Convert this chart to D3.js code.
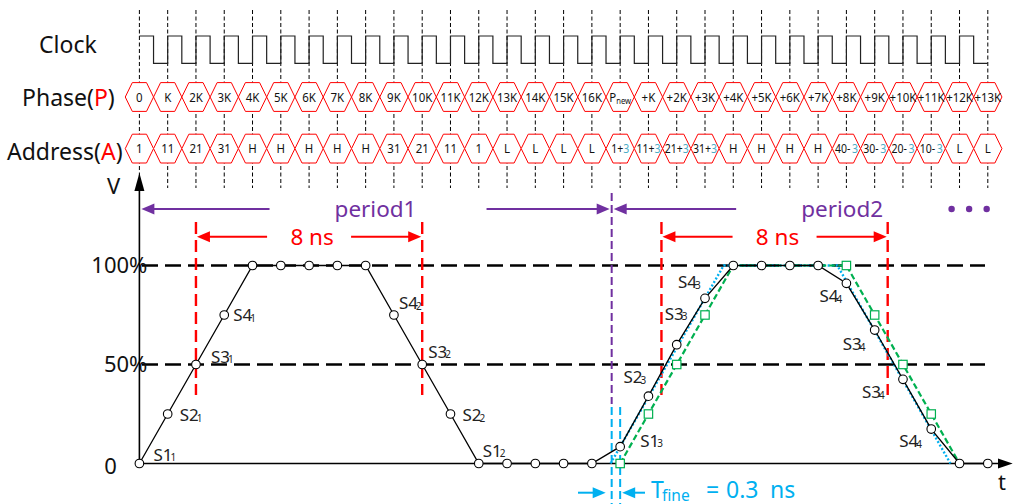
<!DOCTYPE html>
<html>
<head>
<meta charset="utf-8">
<script src="https://cdn.jsdelivr.net/npm/d3@7"></script>
<style>
  body { margin: 0; background: #fff; }
  text { font-family: "Noto Sans", sans-serif; }
</style>
</head>
<body>
<div id="chart"></div>
<script>
// ---- data ----
// clock cycles (1 cycle = 1 ns)
var cycles = d3.range(0, 31)

var phaseLabels = ["0", "K", "2K", "3K", "4K", "5K", "6K", "7K", "8K", "9K", "10K", "11K", "12K",
  "13K", "14K", "15K", "16K", "Pnew", "+K", "+2K", "+3K", "+4K", "+5K", "+6K", "+7K", "+8K",
  "+9K", "+10K", "+11K", "+12K", "+13K"]

var addressLabels = ["1", "11", "21", "31", "H", "H", "H", "H", "H", "31", "21", "11", "1",
  "L", "L", "L", "L", "1+3", "11+3", "21+3", "31+3", "H", "H", "H", "H", "40-3", "30-3",
  "20-3", "10-3", "L", "L"]

// sampled output (black circles), one per clock cycle
var sampleValues = [0, 0.25, 0.5, 0.75, 1, 1, 1, 1, 1, 0.75, 0.5, 0.25, 0, 0, 0, 0, 0,
  0.085, 0.34, 0.6, 0.834, 1, 1, 1, 1, 0.91, 0.674, 0.425, 0.174, 0, 0]

// ideal (unshifted) second period, green squares
var idealCycles = d3.range(17, 30)
var idealValues = [0, 0.25, 0.5, 0.75, 1, 1, 1, 1, 1, 0.75, 0.5, 0.25, 0]

// fine-shifted analog waveform (blue dotted)
var fineTimes = [16.66, 20.66, 24.68, 28.68]
var fineValues = [0, 1, 1, 0]

var yTickValues = [0, 0.5, 1]
var yTickLabels = ["0", "50%", "100%"]

var periodNames = ["period1", "period2"]
var periodStarts = [0, 16.7]
var periodEnds = [16.7, 33]
var widthStarts = [2, 18.46]   // 50% crossings
var widthEnds = [10, 26.46]
var widthLabel = "8 ns"
var tFineEdges = [16.7, 17]

var sampleNames = ["S1", "S2", "S3", "S4", "S4", "S3", "S2", "S1", "S1", "S2", "S3", "S4", "S4", "S3", "S3", "S4"]
var sampleSubs = ["1", "1", "1", "1", "2", "2", "2", "2", "3", "3", "3", "3", "4", "4", "4", "4"]
var sampleCycles = [0, 1, 2, 3, 9, 10, 11, 12, 17, 18, 19, 20, 25, 26, 27, 28]
// label placement relative to its sample point
var labelOffsets = [[14, -3], [12, 7], [15, -2], [9, 6], [5, -6], [6, -7], [12, 7], [4, -7],
  [20, 0], [-25, -13], [-12, -25], [-27, -10], [-27, 19], [-32, 20], [-41, 19], [-32, 18]]

// ---- layout ----
var width = 1013
var height = 504
var purple = "#7030a0", red = "#ff0000", blue = "#00b0f0", green = "#00b050", lightBlue = "#4bacc6"

var svg = d3.select("#chart").append("svg")
  .attr("width", width)
  .attr("height", height)

var x = d3.scaleLinear().domain([0, 30]).range([139.4, 987.8])
var y = d3.scaleLinear().domain([0, 1]).range([463.5, 265.5])
var step = x(1) - x(0)

// vertical clock grid
svg.append("g").selectAll("line")
  .data(cycles)
  .join("line")
    .attr("x1", d => x(d)).attr("x2", d => x(d))
    .attr("y1", 10).attr("y2", 188)
    .attr("stroke", "#000")
    .attr("stroke-width", 1)
    .attr("stroke-dasharray", "4 2.5")

// clock waveform
var clkHigh = 36, clkLow = 63.3
var clkPts = []
for (let k = 0; k < 30; k++) {
  clkPts.push([x(k), clkHigh], [x(k + 0.5), clkHigh], [x(k + 0.5), clkLow], [x(k + 1), clkLow])
  if (k < 29) clkPts.push([x(k + 1), clkHigh])
}
svg.append("path")
  .attr("d", d3.line()(clkPts))
  .attr("fill", "none")
  .attr("stroke", "#222")
  .attr("stroke-width", 1.2)

// row titles
svg.append("text").attr("x", 39).attr("y", 53).attr("font-size", 23).attr("fill", "#111").text("Clock")
var phT = svg.append("text").attr("x", 22).attr("y", 106).attr("font-size", 23).attr("fill", "#111")
phT.append("tspan").text("Phase(")
phT.append("tspan").attr("fill", red).text("P")
phT.append("tspan").text(")")
var adT = svg.append("text").attr("x", 7).attr("y", 160).attr("font-size", 23).attr("fill", "#111")
adT.append("tspan").text("Address(")
adT.append("tspan").attr("fill", red).text("A")
adT.append("tspan").text(")")

// hexagon bus rows
function hexPath (cx, cy) {
  var hw = step / 2, s = 7.1, hh = 14.4
  return "M" + (cx - hw) + "," + cy + "L" + (cx - s) + "," + (cy - hh) + "L" + (cx + s) + "," + (cy - hh) +
    "L" + (cx + hw) + "," + cy + "L" + (cx + s) + "," + (cy + hh) + "L" + (cx - s) + "," + (cy + hh) + "Z"
}

function busRow (labels, cy, cls) {
  var g = svg.append("g").selectAll("g." + cls)
    .data(labels)
    .join("g")
      .attr("class", cls)
  g.append("path")
    .attr("d", (d, i) => hexPath(x(i), cy))
    .attr("fill", "#fff")
    .attr("stroke", red)
    .attr("stroke-width", 1)
  g.append("text")
    .attr("transform", (d, i) => "translate(" + x(i) + "," + (cy + 4.6) + ") scale(0.85,1)")
    .attr("text-anchor", "middle")
    .attr("font-size", 13.5)
    .attr("fill", "#111")
    .each(function (d) {
      var t = d3.select(this)
      var m = d.match(/^(\d+)([+-])3$/)
      if (d === "Pnew") {
        t.append("tspan").text("P")
        t.append("tspan").attr("font-size", 9).attr("dy", 2).text("new")
      } else if (m) {
        t.attr("transform", d3.select(this).attr("transform").replace("scale(0.85,1)", "scale(0.78,1)"))
        t.append("tspan").text(m[1] + m[2])
        t.append("tspan").attr("fill", lightBlue).attr("dx", m[2] === "-" ? 2 : 0).text("3")
      } else {
        t.text(d)
      }
    })
}
busRow(phaseLabels, 97, "phase")
busRow(addressLabels, 148.6, "addr")

// horizontal level lines (50%, 100%)
svg.append("g").selectAll("line")
  .data([0.5, 1])
  .join("line")
    .attr("x1", 142).attr("x2", 985)
    .attr("y1", d => y(d)).attr("y2", d => y(d))
    .attr("stroke", "#000")
    .attr("stroke-width", 2.4)
    .attr("stroke-dasharray", "16 7")

// red pulse-width markers
var widthMarks = widthStarts.concat(widthEnds)
svg.append("g").selectAll("line")
  .data(widthMarks)
  .join("line")
    .attr("x1", d => x(d)).attr("x2", d => x(d))
    .attr("y1", 222).attr("y2", 395)
    .attr("stroke", red)
    .attr("stroke-width", 2.4)
    .attr("stroke-dasharray", "12 6")

// period boundary (purple) and Tfine edges (blue)
svg.append("line")
  .attr("x1", x(periodStarts[1])).attr("x2", x(periodStarts[1]))
  .attr("y1", 193).attr("y2", 404)
  .attr("stroke", purple).attr("stroke-width", 2).attr("stroke-dasharray", "8 4")
svg.append("g").selectAll("line")
  .data(tFineEdges)
  .join("line")
    .attr("x1", d => x(d)).attr("x2", d => x(d))
    .attr("y1", 407).attr("y2", 504)
    .attr("stroke", blue).attr("stroke-width", 2).attr("stroke-dasharray", "8 4")

// arrows
function arrow (x1, x2, yy, color) {
  var dir = x2 > x1 ? 1 : -1
  var len = 13, hw = 5.5
  svg.append("line")
    .attr("x1", x1).attr("x2", x2 - dir * (len - 1))
    .attr("y1", yy).attr("y2", yy)
    .attr("stroke", color).attr("stroke-width", 2)
  svg.append("path")
    .attr("d", "M" + x2 + "," + yy + "L" + (x2 - dir * len) + "," + (yy - hw) + "L" + (x2 - dir * len) + "," + (yy + hw) + "Z")
    .attr("fill", color)
}

// period arrows
var periodY = 209
periodNames.forEach(function (name, i) {
  var a = x(periodStarts[i]), b = x(periodEnds[i])
  var mid = (a + b) / 2
  svg.append("text")
    .attr("x", mid).attr("y", periodY + 8)
    .attr("text-anchor", "middle")
    .attr("font-size", 22.5)
    .attr("fill", purple)
    .text(name)
  arrow(mid - 106, a + 2, periodY, purple)
  if (i === 0) arrow(mid + 111, b - 2, periodY, purple)
})
svg.append("g").selectAll("circle")
  .data([28.72, 29.34, 29.96])
  .join("circle")
    .attr("cx", d => x(d)).attr("cy", periodY)
    .attr("r", 3.2)
    .attr("fill", purple)

// 8 ns arrows
var widthY = 236.7
widthStarts.forEach(function (s, i) {
  var a = x(s), b = x(widthEnds[i])
  var mid = (a + b) / 2
  svg.append("text")
    .attr("x", mid + 3).attr("y", widthY + 8)
    .attr("text-anchor", "middle")
    .attr("font-size", 22.5)
    .attr("fill", red)
    .text(widthLabel)
  arrow(mid - 42, a + 1, widthY, red)
  arrow(mid + 42, b - 1, widthY, red)
})

// Tfine annotation
var tfY = 492.7
arrow(578, x(tFineEdges[0]) - 6, tfY, blue)
arrow(645, x(tFineEdges[1]) + 2, tfY, blue)
var tf = svg.append("text").attr("y", 498).attr("font-size", 23).attr("fill", blue)
tf.append("tspan").attr("x", 651).text("T")
tf.append("tspan").attr("x", 662).attr("dy", 2.5).attr("font-size", 15.5).text("fine")
tf.append("tspan").attr("x", 706).attr("dy", -2.5).text("=")
tf.append("tspan").attr("x", 726).text("0.3")
tf.append("tspan").attr("x", 770).text("ns")

// axes
var yAxis = d3.axisLeft(y)
  .tickValues(yTickValues)
  .tickFormat((d, i) => yTickLabels[i])
  .tickSize(0)
  .tickPadding(-8)
var yAxisG = svg.append("g")
  .attr("transform", "translate(" + x(0) + ",0)")
  .call(yAxis)
yAxisG.select(".domain").remove()
yAxisG.selectAll("text")
  .attr("font-size", 22)
  .attr("font-family", "Noto Sans, sans-serif")
  .attr("fill", "#111")
yAxisG.selectAll(".tick").filter(d => d === 0).select("text")
  .attr("x", -22.5)
  .attr("dy", "0.45em")

svg.append("line")
  .attr("x1", x(0)).attr("x2", x(0))
  .attr("y1", 190).attr("y2", y(0))
  .attr("stroke", "#000").attr("stroke-width", 1.6)
svg.append("path")
  .attr("d", "M" + x(0) + ",173L" + (x(0) - 5) + ",191L" + (x(0) + 5) + ",191Z")
  .attr("fill", "#000")
svg.append("text").attr("x", 107).attr("y", 194).attr("font-size", 22).attr("fill", "#111").text("V")

svg.append("line")
  .attr("x1", x(0)).attr("x2", 1000)
  .attr("y1", y(0)).attr("y2", y(0))
  .attr("stroke", "#000").attr("stroke-width", 1.6)
svg.append("path")
  .attr("d", "M1012.7," + y(0) + "L998," + (y(0) - 5) + "L998," + (y(0) + 5) + "Z")
  .attr("fill", "#000")
svg.append("text").attr("x", 998).attr("y", 490).attr("font-size", 22).attr("fill", "#111").text("t")

// waveforms
var line = d3.line().x(d => x(d[0])).y(d => y(d[1]))

svg.append("path")
  .attr("d", line(fineTimes.map((t, i) => [t, fineValues[i]])))
  .attr("fill", "none")
  .attr("stroke", blue)
  .attr("stroke-width", 2.4)
  .attr("stroke-dasharray", "2 2")

var idealPts = idealCycles.map((k, i) => [k, idealValues[i]])
svg.append("path")
  .attr("d", line(idealPts))
  .attr("fill", "none")
  .attr("stroke", green)
  .attr("stroke-width", 2.2)
  .attr("stroke-dasharray", "6 3")

var samplePts = cycles.map((k, i) => [k, sampleValues[i]])
svg.append("path")
  .attr("d", line(samplePts))
  .attr("fill", "none")
  .attr("stroke", "#000")
  .attr("stroke-width", 1.3)

// green squares where the ideal sample differs from the real one
svg.append("g").selectAll("rect")
  .data(idealPts.filter(p => Math.abs(p[1] - sampleValues[p[0]]) > 0.01))
  .join("rect")
    .attr("x", d => x(d[0]) - 4.2).attr("y", d => y(d[1]) - 4.2)
    .attr("width", 8.4).attr("height", 8.4)
    .attr("fill", "#fff")
    .attr("stroke", green)
    .attr("stroke-width", 1.2)

svg.append("g").selectAll("circle")
  .data(samplePts)
  .join("circle")
    .attr("cx", d => x(d[0])).attr("cy", d => y(d[1]))
    .attr("r", 4.3)
    .attr("fill", "#fff")
    .attr("stroke", "#000")
    .attr("stroke-width", 1.1)

// sample labels
sampleCycles.forEach(function (k, i) {
  var t = svg.append("text")
    .attr("x", x(k) + labelOffsets[i][0])
    .attr("y", y(sampleValues[k]) + labelOffsets[i][1])
    .attr("font-size", 17)
    .attr("fill", "#222")
  t.append("tspan").text(sampleNames[i])
  t.append("tspan").attr("font-size", 10).attr("dx", -2).attr("dy", 0.5).text(sampleSubs[i])
})
</script>
</body>
</html>
